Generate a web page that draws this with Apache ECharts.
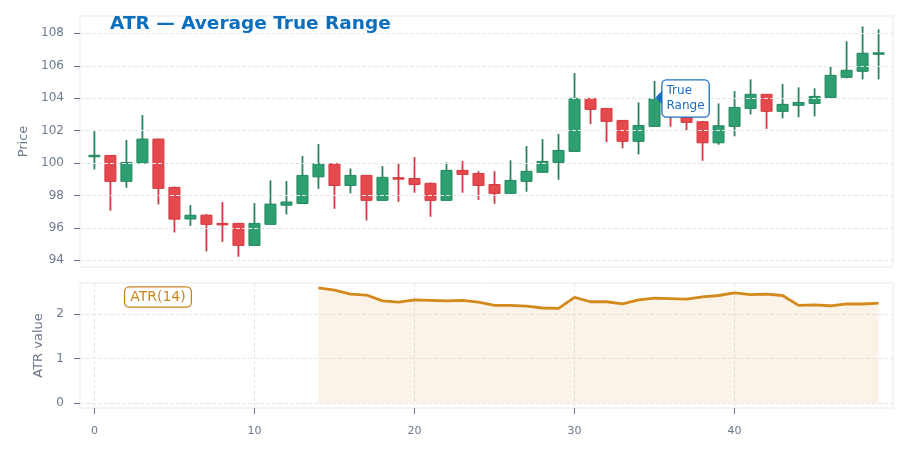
<!DOCTYPE html>
<html>
<head>
<meta charset="utf-8">
<script src="https://cdn.jsdelivr.net/npm/echarts@6/dist/echarts.min.js"></script>
<style>
  html,body{margin:0;padding:0;background:#fff;}
  #main{width:907px;height:452px;}
</style>
</head>
<body>
<div id="main"></div>
<script>
// OHLC per bar
var opens  = [100.45,100.47,98.87,100.0,101.48,98.5,96.55,96.79,96.28,96.28,
              94.92,96.22,97.4,97.51,99.15,99.96,98.62,99.24,97.7,99.1,
              99.05,98.75,97.7,99.55,99.36,98.68,98.13,98.87,99.43,100.04,
              100.72,103.99,103.37,102.63,101.34,102.26,103.9,102.95,102.55,101.25,
              102.26,103.37,104.24,103.19,103.56,103.68,104.05,105.29,105.66,106.75];
var closes = [100.48,98.87,100.04,101.48,98.44,96.54,96.78,96.22,96.24,94.92,
              96.28,97.47,97.6,99.24,99.96,98.62,99.24,97.7,99.12,99.05,
              98.68,97.7,99.55,99.3,98.62,98.13,98.93,99.49,100.1,100.78,
              103.99,103.31,102.57,101.34,102.32,103.97,103.2,102.51,101.25,102.3,
              103.43,104.24,103.19,103.62,103.74,104.11,105.41,105.72,106.77,106.8];
var lows   = [99.61,97.06,98.48,100.0,97.45,95.72,96.13,94.55,95.14,94.22,
              94.92,96.22,96.83,97.51,98.41,97.18,98.13,96.46,97.7,97.61,
              98.17,96.69,97.7,98.17,97.73,97.49,98.13,98.23,99.43,98.97,
              100.72,102.4,101.29,100.91,100.54,102.26,102.24,101.99,100.14,101.13,
              101.65,103.0,102.11,102.76,102.82,102.88,104.05,105.22,105.16,105.16];
var highs  = [101.97,100.5,101.42,102.96,101.5,98.55,97.41,96.85,97.59,96.3,
              97.53,98.93,98.89,100.43,101.17,99.98,99.67,99.26,99.81,100.0,
              100.37,98.8,100.04,100.12,99.5,99.5,100.17,101.05,101.48,101.79,
              105.55,104.0,103.4,102.65,103.74,105.06,104.4,103.3,102.6,103.68,
              104.44,105.16,104.26,104.87,104.67,104.61,105.98,107.51,108.43,108.25];
// ATR(14), empty for the first 14 bars
var atr = [null,null,null,null,null,null,null,null,null,null,
           null,null,null,null,2.58,2.53,2.44,2.42,2.29,2.26,
           2.31,2.30,2.29,2.30,2.26,2.19,2.19,2.17,2.13,2.12,
           2.37,2.27,2.27,2.22,2.31,2.35,2.34,2.33,2.38,2.41,
           2.47,2.43,2.44,2.41,2.19,2.20,2.18,2.22,2.22,2.24];
var xTicks = [0,10,20,30,40];
var priceTicks = [94,96,98,100,102,104,106,108];
var atrTicks = [0,1,2];

var myChart = echarts.init(document.getElementById('main'));

var candles = [], atrLine = [];
for (var i = 0; i < opens.length; i++) {
  candles.push([i, opens[i], closes[i], lows[i], highs[i]]);
  atrLine.push([i, atr[i]]);
}

var upFill = '#2e9f70', upLine = '#23875d';
var dnFill = '#e5484d', dnLine = '#d23a3f';

// candle body + wick, drawn through the axes
function drawCandle(params, api) {
  var x = api.value(0), o = api.value(1), c = api.value(2), l = api.value(3), h = api.value(4);
  var pO = api.coord([x, o]), pC = api.coord([x, c]);
  var pL = api.coord([x, l]), pH = api.coord([x, h]);
  var up = c >= o;
  var w = 11;
  var top = Math.min(pO[1], pC[1]), bot = Math.max(pO[1], pC[1]);
  var hgt = Math.max(bot - top, 1.5);
  return {
    type:'group',
    children:[
      {type:'line', shape:{x1:pH[0], y1:pH[1], x2:pL[0], y2:pL[1]},
       style:{stroke:up ? upLine : dnLine, lineWidth:1.8}},
      {type:'rect', shape:{x:pO[0] - w/2, y:top, width:w, height:hgt},
       style:{fill:up ? upFill : dnFill, stroke:up ? upLine : dnLine, lineWidth:1}}
    ]
  };
}

var gridLine = {show:true, lineStyle:{color:'#e4e7ed', type:'dashed', width:1}};
var labelCol = '#6b7890';

var option = {
  animation:false,
  textStyle:{fontFamily:'DejaVu Sans'},
  title:{
    text:'ATR — Average True Range',
    left:110, top:15, padding:0,
    textStyle:{color:'#0b6fbd', fontSize:18.5, fontWeight:'bold', fontFamily:'DejaVu Sans'}
  },
  grid:[
    {left:80, right:14, top:16, height:251, show:true, borderColor:'#e6e9ef', borderWidth:1},
    {left:80, right:14, top:283, height:125, show:true, borderColor:'#e6e9ef', borderWidth:1}
  ],
  xAxis:[
    {type:'value', gridIndex:0, min:-0.9, max:49.9,
     axisLine:{show:false, onZero:false}, axisTick:{show:false}, axisLabel:{show:false}, splitLine:{show:false}},
    {type:'value', gridIndex:1, min:-0.9, max:49.9,
     axisLine:{show:false, onZero:false},
     axisTick:{show:true, length:6, customValues:xTicks, lineStyle:{color:labelCol}},
     axisLabel:{color:labelCol, fontSize:11, margin:18, customValues:xTicks},
     splitLine:gridLine}
  ],
  yAxis:[
    {type:'value', gridIndex:0, min:93.59, max:109.07, splitNumber:7, z:3,
     name:'Price', nameLocation:'middle', nameGap:48,
     nameTextStyle:{color:labelCol, fontSize:13},
     axisLine:{show:false, onZero:false},
     axisTick:{show:true, length:6, customValues:priceTicks, lineStyle:{color:labelCol}},
     axisLabel:{color:labelCol, fontSize:12, margin:16, customValues:priceTicks},
     splitLine:gridLine},
    {type:'value', gridIndex:1, min:-0.11, max:2.69, splitNumber:3,
     name:'ATR value', nameLocation:'middle', nameGap:34,
     nameTextStyle:{color:labelCol, fontSize:13},
     axisLine:{show:false, onZero:false},
     axisTick:{show:true, length:6, customValues:atrTicks, lineStyle:{color:labelCol}},
     axisLabel:{color:labelCol, fontSize:12, margin:16, customValues:atrTicks},
     splitLine:gridLine}
  ],
  series:[
    {
      name:'Price', type:'custom',
      xAxisIndex:0, yAxisIndex:0,
      data:candles,
      encode:{x:0, y:[1,2,3,4]},
      renderItem:drawCandle,
      z:2,
      markPoint:{
        silent:true,
        data:[
          {coord:[35.31, 104.05], symbol:'triangle', symbolSize:[17,8], symbolRotate:90,
           itemStyle:{color:'#1a6fc0'}, label:{show:false}},
          {coord:[35.5, 103.98], symbol:'rect', symbolSize:0,
           label:{show:true, position:'right', distance:0, formatter:'True\nRange',
                  color:'#1a6fc0', fontSize:12, lineHeight:15, align:'left',
                  backgroundColor:'#fff', borderColor:'#1a6fc0', borderWidth:1.3,
                  borderRadius:4, padding:[3,4,3,4]}}
        ]
      }
    },
    {
      name:'ATR(14)', type:'line',
      xAxisIndex:1, yAxisIndex:1,
      data:atrLine,
      showSymbol:false, connectNulls:false,
      lineStyle:{color:'#d4891d', width:2.8},
      itemStyle:{color:'#d4891d'},
      areaStyle:{color:'rgba(232,160,70,0.18)'},
      markPoint:{
        silent:true,
        data:[
          {coord:[3.97, 2.375], symbol:'rect', symbolSize:0,
           label:{show:true, position:'inside', formatter:'ATR(14)',
                  color:'#c8861e', fontSize:14,
                  backgroundColor:'#fff', borderColor:'#c8861e', borderWidth:1.3,
                  borderRadius:4, padding:[3,5,2,5]}}
        ]
      }
    }
  ]
};
myChart.setOption(option);
</script>
</body>
</html>
